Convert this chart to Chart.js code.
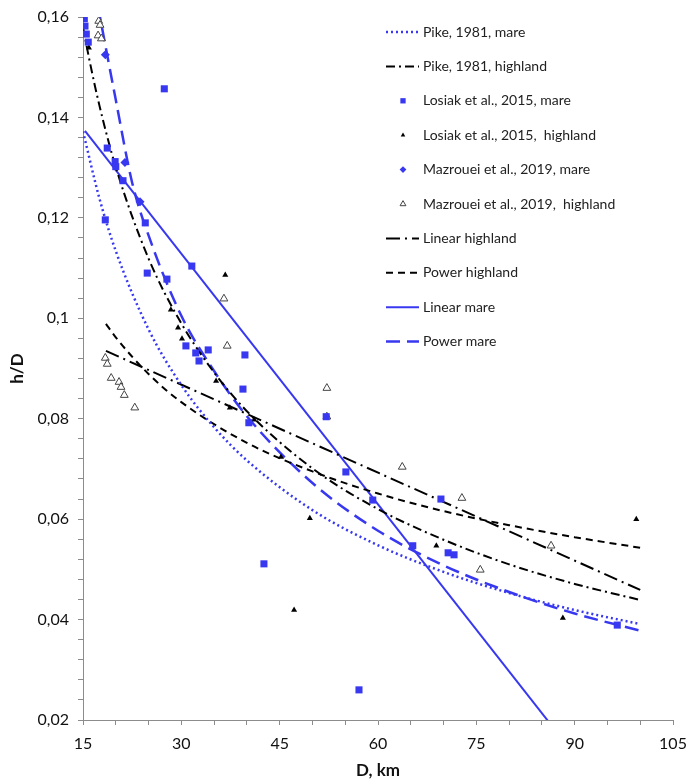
<!DOCTYPE html>
<html>
<head>
<meta charset="utf-8">
<script src="https://cdn.jsdelivr.net/npm/chart.js@4/dist/chart.umd.min.js"></script>
<style>
  body { margin: 0; background: #fff; }
  canvas { display: block; }
</style>
</head>
<body>
<canvas id="chart" width="686" height="782"></canvas>
<script>
// ---- data (D in km, h/D) ----
var losiakMareD  = [15.2, 15.3, 15.5, 15.8, 27.4, 18.7, 19.9, 20.0, 21.1, 18.4, 24.5, 24.8, 27.8, 31.6, 30.7, 32.2, 32.7, 34.1, 39.7, 39.4, 40.3, 52.1, 55.1, 59.2, 69.6, 65.3, 70.7, 71.6, 42.6, 57.1, 96.5];
var losiakMareHD = [0.1597, 0.1582, 0.1566, 0.1550, 0.1457, 0.1339, 0.1312, 0.1302, 0.1274, 0.1196, 0.1190, 0.1090, 0.1078, 0.1104, 0.0945, 0.0931, 0.0915, 0.0937, 0.0927, 0.0859, 0.0792, 0.0804, 0.0694, 0.0638, 0.0640, 0.0547, 0.0533, 0.0529, 0.0511, 0.0260, 0.0389];

var losiakHighD  = [15.9, 36.7, 28.4, 29.5, 30.1, 35.3, 37.4, 41.1, 45.2, 49.6, 47.2, 68.9, 88.2, 99.4];
var losiakHighHD = [0.1539, 0.1086, 0.1017, 0.0981, 0.0959, 0.0875, 0.0822, 0.0798, 0.0724, 0.0602, 0.0419, 0.0547, 0.0403, 0.0600];

var mazroueiMareD  = [18.4, 21.4, 23.7];
var mazroueiMareHD = [0.1525, 0.1310, 0.1232];

var mazroueiHighD  = [17.4, 17.6, 17.3, 17.8, 18.4, 18.7, 19.3, 20.5, 20.8, 21.3, 22.9, 36.5, 37.0, 52.2, 52.2, 63.7, 72.8, 86.4, 75.6];
var mazroueiHighHD = [0.1592, 0.1584, 0.1563, 0.1557, 0.0921, 0.0909, 0.0881, 0.0873, 0.0863, 0.0847, 0.0822, 0.1039, 0.0945, 0.0861, 0.0804, 0.0704, 0.0642, 0.0547, 0.0499];

var pikeMareD  = [15, 17.5, 20, 25, 30, 35, 40, 50, 60, 70, 80, 90, 100];
var pikeMareHD = [0.1372, 0.1239, 0.1134, 0.0978, 0.0867, 0.0783, 0.0717, 0.0618, 0.0548, 0.0495, 0.0453, 0.0419, 0.0391];

var pikeHighD  = [15, 16, 17.5, 20, 25, 30, 35, 40, 50, 60, 70, 80, 90, 100];
var pikeHighHD = [0.158, 0.1513, 0.1424, 0.1301, 0.1119, 0.0990, 0.0892, 0.0815, 0.0701, 0.0620, 0.0559, 0.0510, 0.0471, 0.0439];

var linHighD  = [18.5, 100];
var linHighHD = [0.0935, 0.0459];

var powHighD  = [18.5, 20, 25, 30, 40, 50, 60, 70, 80, 90, 100];
var powHighHD = [0.0989, 0.0962, 0.0889, 0.0833, 0.0752, 0.0695, 0.0651, 0.0616, 0.0588, 0.0564, 0.0543];

var linMareD  = [15.3, 86];
var linMareHD = [0.1373, 0.0197];

var powMareD  = [17.3, 20, 22.5, 25, 30, 35, 40, 50, 60, 70, 80, 90, 100];
var powMareHD = [0.162, 0.1435, 0.127, 0.1165, 0.1005, 0.0895, 0.0805, 0.0672, 0.0577, 0.0508, 0.0455, 0.0412, 0.0378];

var xTicks = [15, 30, 45, 60, 75, 90, 105];
var yTicks = [0.02, 0.04, 0.06, 0.08, 0.1, 0.12, 0.14, 0.16];

var BLUE = '#3838f0';
var FONT = 'Lato, "Open Sans", sans-serif';

function pts(xs, ys) {
    return xs.map(function (x, i) { return { x: x, y: ys[i] }; });
}

function lineSet(label, xs, ys, color, dash, width) {
    return {
        label: label,
        data: pts(xs, ys),
        showLine: true,
        borderColor: color,
        borderWidth: width,
        borderDash: dash,
        pointRadius: 0,
        cubicInterpolationMode: 'monotone',
        fill: false,
        order: 2
    };
}

function pointSet(label, xs, ys, style, radius, fillColor, lineColor, bw) {
    return {
        label: label,
        data: pts(xs, ys),
        showLine: false,
        pointStyle: style,
        pointRadius: radius,
        backgroundColor: fillColor,
        borderColor: lineColor,
        pointBorderWidth: bw,
        order: 1
    };
}

var datasets = [
    lineSet('Pike, 1981, mare', pikeMareD, pikeMareHD, BLUE, [2, 3], 2.5),
    lineSet('Pike, 1981, highland', pikeHighD, pikeHighHD, '#000', [9, 4, 2, 4], 2),
    pointSet('Losiak et al., 2015, mare', losiakMareD, losiakMareHD, 'rect', 5, BLUE, BLUE, 0),
    pointSet('Losiak et al., 2015,  highland', losiakHighD, losiakHighHD, 'triangle', 3.5, '#000', '#000', 0),
    pointSet('Mazrouei et al., 2019, mare', mazroueiMareD, mazroueiMareHD, 'rectRot', 4.5, BLUE, BLUE, 0),
    pointSet('Mazrouei et al., 2019,  highland', mazroueiHighD, mazroueiHighHD, 'triangle', 4.5, '#fff', '#444', 1),
    lineSet('Linear highland', linHighD, linHighHD, '#000', [14, 5, 2, 5], 2),
    lineSet('Power highland', powHighD, powHighHD, '#000', [7, 5], 2),
    lineSet('Linear mare', linMareD, linMareHD, BLUE, [], 2),
    lineSet('Power mare', powMareD, powMareHD, BLUE, [14, 7], 2.5)
];

/******************************************************************************
* Legend drawn inside the plot area, top right, like the original figure.
******************************************************************************/
var insideLegend = {
    id: 'insideLegend',
    afterDraw: function (chart) {
        var ctx = chart.ctx;
        var x0 = 386, x1 = 419, tx = 423;
        var y = 32, step = 34.4;
        ctx.save();
        chart.data.datasets.forEach(function (ds, i) {
            var yy = y + i * step;
            if (ds.showLine) {
                ctx.beginPath();
                ctx.setLineDash(ds.borderDash);
                ctx.lineWidth = ds.borderWidth;
                ctx.strokeStyle = ds.borderColor;
                ctx.moveTo(x0, yy);
                ctx.lineTo(x1, yy);
                ctx.stroke();
                ctx.setLineDash([]);
            } else {
                ctx.fillStyle = ds.backgroundColor;
                ctx.strokeStyle = ds.borderColor;
                ctx.lineWidth = ds.pointBorderWidth;
                Chart.helpers.drawPoint(ctx, {
                    pointStyle: ds.pointStyle,
                    radius: ds.pointRadius * 0.75,
                    rotation: 0,
                    borderWidth: ds.pointBorderWidth
                }, 403, yy);
            }
            ctx.fillStyle = '#222';
            ctx.font = '14px ' + FONT;
            ctx.textBaseline = 'middle';
            ctx.textAlign = 'left';
            ctx.fillText(ds.label, tx, yy);
        });
        ctx.restore();
    }
};

function isMajor(v, step) {
    var r = v / step;
    return Math.abs(r - Math.round(r)) < 1e-6;
}

var ctx = document.getElementById('chart').getContext('2d');
new Chart(ctx, {
    type: 'scatter',
    data: { datasets: datasets },
    options: {
        responsive: false,
        animation: false,
        devicePixelRatio: 1,
        layout: { padding: { left: 0, right: 0, top: 17, bottom: 0 } },
        plugins: {
            legend: { display: false },
            tooltip: { enabled: false }
        },
        scales: {
            x: {
                type: 'linear',
                min: xTicks[0],
                max: xTicks[xTicks.length - 1],
                afterFit: function (scale) {
                    scale.height = 62;
                    // keep the plot's right edge where the original has it
                    scale.paddingRight = 13;
                    scale.paddingLeft = 0;
                },
                grid: { drawOnChartArea: false, drawTicks: true, tickLength: 5, color: '#8c8c8c' },
                border: { display: true, color: '#8c8c8c' },
                ticks: {
                    stepSize: 5,
                    autoSkip: false,
                    maxRotation: 0,
                    padding: 9,
                    color: '#111',
                    font: { family: FONT, size: 16 },
                    callback: function (v) { return isMajor(v, 15) ? String(v) : ''; }
                },
                title: {
                    display: true,
                    text: 'D, km',
                    color: '#111',
                    font: { family: FONT, size: 17, weight: 'bold' },
                    padding: { top: 0, bottom: 1 }
                }
            },
            y: {
                type: 'linear',
                min: yTicks[0],
                max: yTicks[yTicks.length - 1],
                afterFit: function (scale) {
                    scale.width = 83;
                    scale.paddingTop = 0;
                    scale.paddingBottom = 0;
                },
                grid: { drawOnChartArea: false, drawTicks: true, tickLength: 5, color: '#8c8c8c' },
                border: { display: true, color: '#8c8c8c' },
                ticks: {
                    stepSize: 0.004,
                    autoSkip: false,
                    padding: 9,
                    color: '#111',
                    font: { family: FONT, size: 16 },
                    callback: function (v) {
                        if (!isMajor(v, 0.02)) return '';
                        return String(+v.toFixed(2)).replace('.', ',');
                    }
                },
                title: {
                    display: true,
                    text: 'h/D',
                    color: '#111',
                    font: { family: FONT, size: 17, weight: 'bold' },
                    padding: { top: 7, bottom: 0 }
                }
            }
        }
    },
    plugins: [insideLegend]
});
</script>
</body>
</html>
